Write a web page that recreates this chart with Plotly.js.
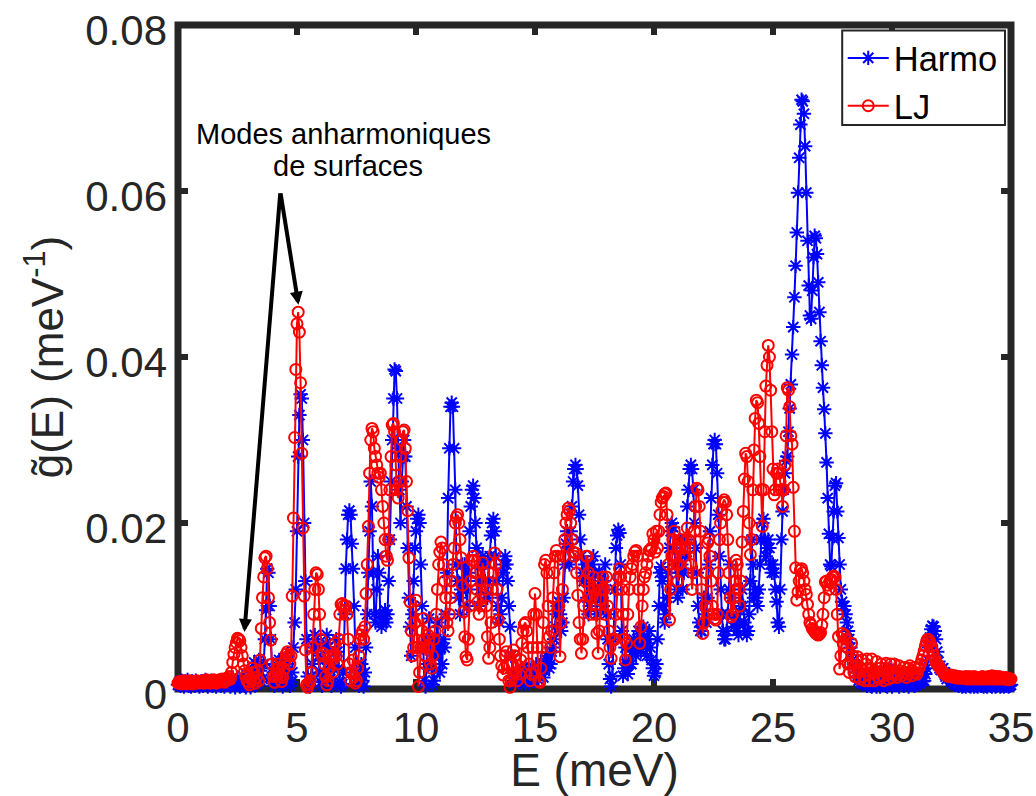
<!DOCTYPE html>
<html><head><meta charset="utf-8">
<script src="https://cdn.plot.ly/plotly-3.0.1.min.js"></script>
<style>html,body{margin:0;padding:0;background:#fff}</style></head>
<body><div id="chart" style="width:1036px;height:796px"></div>
<script>
// Each row holds one meV of samples, 0.05 meV apart; values in 10^-3 meV^-1
const harmoRows = [
[0.5,0.8,0.4,1,0.6,0.3,0.9,0.5,1.1,0.4,0.7,0.3,0.9,0.6,0.4,1,0.5,0.8,0.3,0.6],
[0.9,0.4,0.7,1.1,0.5,0.3,0.8,0.5,1,0.4,0.6,0.9,0.3,0.7,0.5,1,0.4,0.8,0.6,0.3],
[0.5,0.9,1.2,0.6,0.3,0.8,1.4,0.7,0.2,0.5,1.1,0.6,0.3,0.9,1.6,0.8,0.4,0.2,0.7,1.3],
[0.6,0.2,0.8,2,3.2,1.4,0.5,1.6,3.5,2.2,0.9,1.2,3,6,9.5,14.5,14,10,6,2.5],
[1,0.4,1,2,3.2,3.5,2.2,0.8,0.3,1,2.4,4,3,1.4,0.4,0.8,2,5,8,12],
[19,28,33,35.5,35,30,20,13,6,1.5,0.5,0.3,1.5,3,5,6.5,6,5,4,2],
[0.8,0.4,1.6,3.5,5.5,6.5,5,3,1.2,0.4,0.8,2.5,4.5,6,4.5,2.5,0.8,0.3,0.6,2],
[9,14.5,18,21,21.5,21,17.5,14.5,10,5,2,0.6,0.4,1.2,3,1,0.3,2,5,9],
[14,19,25,22,14,9,8,12,16,14,9,7.5,8,9,9.5,8,9,13,18,25],
[30,35,38.5,38.3,35,29,24,20,25,28,30,28,22,17,11,7.5,4,9,13,17],
[19,20.5,21,20,15,10,5,1,0.3,3,6,8.5,6,2.5,0.5,1,4,6,8,5],
[2,5,3,6,5,9,14,23,29,34,34.5,34,29,24,15,13,11,9,12,15],
[13,15,12,10,14,19,22,24,24.5,23,20,17,13,10,12,15,16,15,13,11],
[11,13,16,18.5,20,20.5,19,16,13,10,8,9,11,14,15,16,15,13,10,7.5],
[4,2,1,0.6,1.2,2,1.5,0.8,1.6,2.5,1.5,0.6,1.2,2.2,1.4,0.7,1.5,2.6,1.8,1],
[1.6,3,2,1.1,1.8,3.2,2.4,1.4,2.2,3.6,4,3.2,2.5,3,4.5,5,6,7.5,9,10],
[10.5,9,7,8,11,15,17.5,19,17,15,19,22,25,26.5,27,26.5,24.5,21,18,16],
[14,13,15,14,11,9,10,13,15,16,14,11,9,12,14,13,11,10,13,15],
[9,6,3,1.2,0.3,1.5,6,12,17,18.5,19.2,18.8,15,7,1.6,2.5,5,3,1.8,3],
[5,3,4.5,6,5,4,6,7,5.5,4.5,6,7.5,6,5,4,6,7,5,3.5,2.5],
[1.6,1.9,3,6,10,14,14.7,13,10,8,9,11,14,17,19,20,19.5,17,15,12],
[11,14,18,15,12,14,16,18,22,24,26.5,27,26.5,24,20,17,14,10,8,7],
[7,8,11,9,8,11,15,19,23,27,29.5,30,29.5,26,21,16,12,9,7,6],
[6,7,9,12,15,11,9,7.5,8,9,7,6.5,8,10,12,10,8,7,6.5,7],
[9,13,18,15,11,12,11,10,12,15,18,20,20.5,18,16,17,18,17,15,14],
[15,14,12,10.5,8,7.5,12,18,21.4,24,26,27.5,28,31,33.8,36.7,40.3,43.6,47.2,51],
[55,59.8,64,68,71,70.8,69.3,65.4,59.8,54,48.6,45,44.6,48,52,54.6,54.3,52.4,49,45.4],
[41.9,39,36.3,33.7,30.8,27.3,23,18.7,15,14.8,18.2,21.4,24.5,24.8,21.4,18.2,15,12,10.5,10],
[10,9,8,7,6,5,4.5,3.5,3,2.5,2,1.5,1,1.2,0.8,0.6,0.8,1,0.6,0.4],
[0.5,1.5,0.4,0.3,1.2,2,0.5,0.3,1.4,0.6,0.3,0.7,1.6,2.2,0.8,0.4,0.3,1,1.8,0.6],
[0.3,0.6,1.8,2.5,1,0.5,0.3,0.8,1.4,0.5,0.4,0.9,1.6,0.6,0.3,0.5,1.1,1.5,0.7,0.4],
[0.5,1.2,0.8,0.6,1,1.5,0.9,1,1.8,2.5,3.5,5,6.2,7.2,7.6,7.5,7,6,4.5,3.3],
[2.5,2.3,2.4,2.5,2,1.5,1.2,1.5,1.7,1.2,0.9,1,0.7,0.5,0.6,0.5,0.4,0.6,0.5,0.3],
[0.4,0.6,0.3,0.5,0.7,0.4,0.3,0.6,0.5,0.3,0.6,0.4,0.3,0.5,0.7,0.4,0.5,0.3,0.6,0.4],
[0.3,0.5,0.6,0.4,0.3,0.6,0.5,0.3,0.4,0.7,0.5,0.3,0.4,0.6,0.3,0.5,0.4,0.6,0.3,0.4],
[0.5]
];
const ljRows = [
[0.7,0.9,0.8,0.6,0.8,1,0.7,0.9,0.6,0.8,1,0.8,0.6,0.9,0.7,0.8,1,0.7,0.9,0.8],
[0.8,1,0.7,0.9,1.1,0.8,1,0.7,0.9,0.8,1.1,0.9,0.7,1,0.8,1.1,0.9,1.2,1,0.8],
[1,1.3,1.1,1.5,1.2,2,3.2,4.2,5,5.6,6.1,6,5.8,5,4,3,2.2,1.5,1,0.8],
[0.5,1.2,2.5,2,1,0.7,1.4,2.2,1,3.5,7.3,11,13.5,15.8,16,14.5,11,8,5.9,3],
[1.5,0.8,1.6,2.4,3,2.6,1.5,0.9,1.4,2.4,3.4,4.2,4.5,4,3,4,11.2,20.6,30.3,38.5],
[44,45.4,43,36.9,28.4,19.4,11.2,4.7,0.5,0.2,0.6,1,2,5,9,12,14,13.8,12,9],
[6,4,4.3,3,1.5,0.5,1,2.5,4,3.5,2,4,5.5,4,3,6,9,10.2,10.3,10],
[9.5,10,9,6,3,1,2,3.5,1.5,0.7,1,2.5,4,6,6.5,7,6,7.5,11.5,15],
[19.6,26,30,31.4,31,29,28,27,26,25.5,26,24,22,20,18,16,15.5,18,24,28],
[31.8,32,31,27,24,23,25,28,30,31,31.2,29,25,21.5,15.8,10.5,7,4,5,8],
[10.7,5,0.3,2,5,7,8.5,6,4,5,6.5,5,3,2.5,4,6,7,9,12,15],
[16.5,17.7,17,15,13,11,8,7,9,11,13,15,17,20,20.7,21,20,18,15.8,12.5],
[9.3,6.3,3.9,3.5,6,10,13,15.5,16,15.5,14,12,10.5,9,10,13,15.2,14,12,10],
[6.3,3.7,5,8,12,14,16.4,15,12,8.3,6,4,2.8,1.7,2.5,4,4.5,3,1,0.2],
[1,3,4.7,4,2,1,2.8,1.8,3.5,5.5,7,7.8,8,7,5,3,1,1.8,5,9],
[11.5,9,5,1,0.8,2.5,5,8,15,15.5,14,10,6.3,5,7,11,14,16,16.7,16],
[10,3.9,8,12,16,18,20,21,21.8,21.5,20,18,16.5,16,16.4,14,11.3,8,6,4.3],
[6,10,13,16,16,14,11.3,9,11,13.5,12,9,6.7,4.3,7,10.7,12,13.5,12,9],
[13.5,10,7,5,3.7,6,5.9,6,9,12,13.5,14.5,13.5,12,9,6,3.5,5.5,9,12],
[13.5,14.5,15,16,16.5,16.7,16,12,5.5,7.5,10,12,13.5,14,15,16,16.7,16.7,17,18.7],
[18,16.5,19,17,19,21,22.5,23,23.2,23.5,23.6,21,15,8.3,12,16,18,19,16,15],
[13,15,17,18,17,16,17,18,19.4,18,17,15,12,14,19,22,24.2,24,22,19],
[12,6.7,8,10,14,17.6,18,16,13,10,9,8.5,8.3,9,14,18,20,21.5,22.5,22.8],
[22.5,21,18,14,11,8.7,9,11,13,15.5,15,12,10,13,17.7,21.4,25.3,28.4,28,25],
[20,16.2,18,24,28.8,32.6,34.8,34.5,32,28,24,19.6,24,31,36.5,39,41.4,40,36,31],
[26.5,23.4,24,26,26.5,26,25,24,22,24,27,30.5,36.3,36,34,30.5,29.5,24.3,19,14.6],
[10.7,11.7,13,14.3,14.5,14,13,12,11.4,10.2,9,8,7.7,7.3,7.1,6.9,6.7,6.6,6.5,6.6],
[6.8,7.7,9,11,12.9,13,12.5,12,13,13.2,13.5,13.6,13.5,12,9,6.3,2.4,4,6.7,5.5],
[6.5,6,5,3,2,3,5.5,4,2,1.5,3.5,3.9,2,1.2,2.5,3.5,1.5,1,3,3.6],
[1.8,1,2.5,3.6,2,1,2,3.3,1.5,1.2,2.5,3,1.5,1,2.5,3.1,2,1.2,2.2,3],
[1.4,1.8,3,2,1.4,1.8,2.8,2.2,1.6,2,2.6,2,1.4,1.8,2.5,2.8,2.2,1.6,2,2.6],
[2,1.8,2.4,2.6,3,3.5,4,4.6,5.2,5.7,6,5.9,5.6,5.1,4.6,4,3.6,3.2,3,2.8],
[2.6,2.4,2.2,2,1.8,1.7,1.6,1.7,1.5,1.6,1.7,1.5,1.4,1.6,1.5,1.3,1.4,1.5,1.3,1.4],
[1.3,1.4,1.5,1.2,1.3,1.5,1.4,1.2,1.3,1.5,1.4,1.2,1.3,1.4,1.2,1.3,1.5,1.4,1.2,1.3],
[1.4,1.5,1.2,1.3,1.6,1.4,1.2,1.5,1.3,1.2,1.5,1.4,1.2,1.4,1.3,1.2,1.4,1.3,1.1,1.2],
[1.2]
];
const xTicks = [0,5,10,15,20,25,30,35];
const yTicks = [0,0.02,0.04,0.06,0.08];
const yTickLabels = ['0','0.02','0.04','0.06','0.08'];
const seriesNames = ['Harmo','LJ'];
const noteLines = ['Modes anharmoniques','de surfaces'];

const expand = rows => rows.flatMap((r,k) => r.map((v,j) => ({x:k+j*0.05, y:v/1000})));
const FONT = '"Liberation Sans", Arial, sans-serif', DARK = '#262626';
const mk = (rows,name,color,symbol,size) => {
  const p = expand(rows);
  return {x:p.map(d=>d.x), y:p.map(d=>d.y), name, type:'scatter', mode:'lines+markers', cliponaxis:false,
    line:{color,width:2},
    marker:{symbol,size,color,line:{color,width:2}}};
};
const traces = [mk(harmoRows,seriesNames[0],'#0000ff','asterisk-open',12), mk(ljRows,seriesNames[1],'#ff0000','circle-open',11)];
const axis = {showgrid:false, zeroline:false, showline:false, ticks:'inside', ticklen:10, tickwidth:6, tickcolor:DARK, mirror:'ticks', layer:'below traces',
  ticklabelstandoff:10, tickfont:{family:FONT,size:42,color:DARK}};
const arrow = (x,y) => ({x,y,ax:4.3,ay:0.0599,axref:'x',ayref:'y',xref:'x',yref:'y',text:'',showarrow:true,arrowhead:2,arrowsize:0.65,arrowwidth:4,arrowcolor:'#000',standoff:0});
const note = (text,x,y) => ({x,y,xref:'x',yref:'y',text,showarrow:false,align:'center',font:{family:FONT,size:29,color:'#000'}});
const layout = {
  width:1036,height:796,paper_bgcolor:'#fff',plot_bgcolor:'#fff',showlegend:true,
  margin:{l:177.5,r:24.5,t:25,b:107,pad:0},
  xaxis:Object.assign({},axis,{range:[0,35],tickmode:'array',tickvals:xTicks,ticktext:xTicks.map(String),
    title:{text:'E (meV)',font:{family:FONT,size:46,color:DARK},standoff:6}}),
  yaxis:Object.assign({},axis,{range:[0,0.08],tickmode:'array',tickvals:yTicks,ticktext:yTickLabels,ticklabelshift:5,ticklabeloverflow:'allow',
    title:{text:'\u00a0\u00a0\u00a0g\u0303(E) (meV<sup>-1</sup>)',font:{family:FONT,size:44,color:DARK},standoff:7}}),
  legend:{x:0.798,y:0.994,xanchor:'left',yanchor:'top',bgcolor:'rgba(0,0,0,0)',borderwidth:0,
    font:{family:FONT,size:34.5,color:'#000'},itemwidth:41,tracegroupgap:0},
  shapes:[
    {type:'rect',xref:'paper',yref:'paper',x0:0,x1:1,y0:0,y1:1,layer:'below',line:{color:DARK,width:7},fillcolor:'rgba(0,0,0,0)'},
    {type:'rect',xref:'paper',yref:'paper',x0:(842.5-177.5)/834,x1:(1005.5-177.5)/834,y0:(689-125)/664,y1:(689-30.5)/664,layer:'above',line:{color:DARK,width:2},fillcolor:'#fff'}
  ],
  annotations:[
    arrow(2.79,0.00687), arrow(5.06,0.0463),
    note(noteLines[0],6.97,0.06681), note(noteLines[1],7.15,0.06301)
  ]
};
Plotly.newPlot('chart',traces,layout,{displayModeBar:false,staticPlot:true});
</script></body></html>
